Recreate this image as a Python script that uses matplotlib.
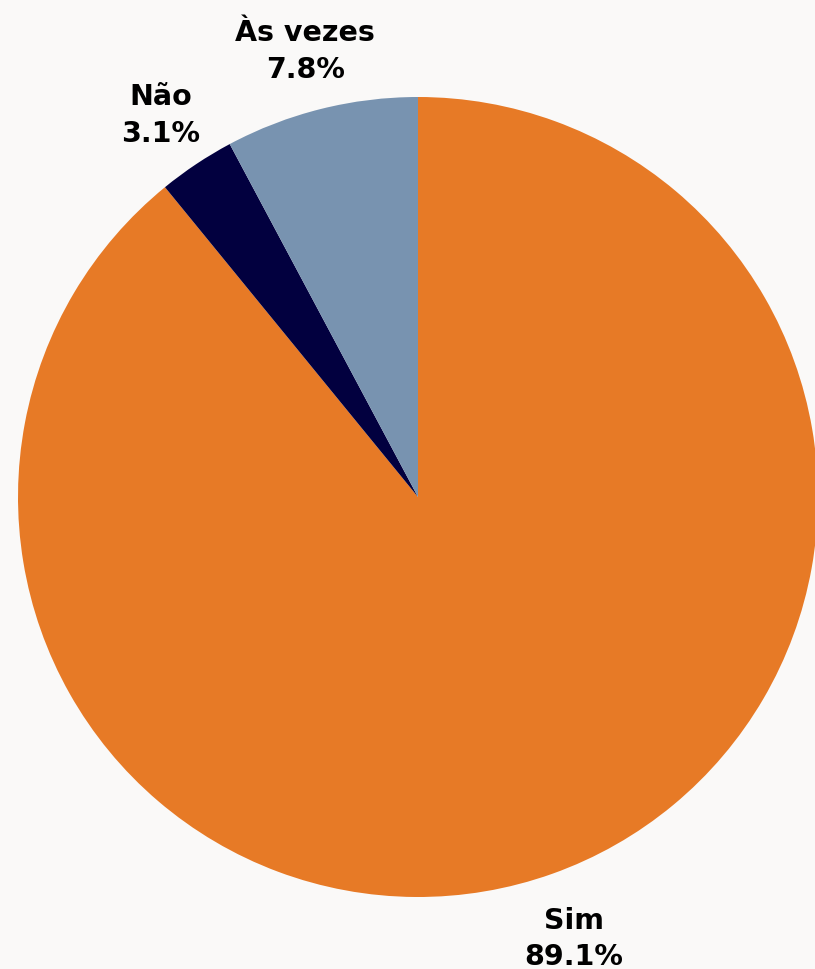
import matplotlib
matplotlib.use("Agg")
import matplotlib.pyplot as plt
import numpy as np

categories = ["Sim", "Não", "Às vezes"]
values = [89.1, 3.1, 7.8]
colors = ["#E77A26", "#02003F", "#7893B0"]

bg = "#FAF9F8"
W, H = 815, 970
fig = plt.figure(figsize=(W / 100, H / 100), dpi=100, facecolor=bg)
cx, cy, r = 418, 498, 400
ax = fig.add_axes([(cx - r) / W, (H - cy - r) / H, 2 * r / W, 2 * r / H])
ax.set_facecolor(bg)
wedges, texts = ax.pie(values, colors=colors, startangle=90, counterclock=False,
                       radius=1, labels=[f"{c}\n{v:.1f}%" for c, v in zip(categories, values)],
                       labeldistance=1.16,
                       wedgeprops=dict(linewidth=0),
                       textprops=dict(fontsize=20.5, fontweight="bold", color="black",
                                      family=["DejaVu Sans"], linespacing=1.4))
for t in texts:
    t.set_ha("center")
    t.set_va("center")
    t.set_clip_on(False)
    x, y = t.get_position()
    t.set_position((x, y - 0.01))
for w in wedges:
    w.set_clip_on(False)
ax.set_xlim(-1, 1)
ax.set_ylim(-1, 1)
ax.set_aspect("equal")
ax.axis("off")
fig.savefig("out.png", dpi=100, facecolor=bg)
